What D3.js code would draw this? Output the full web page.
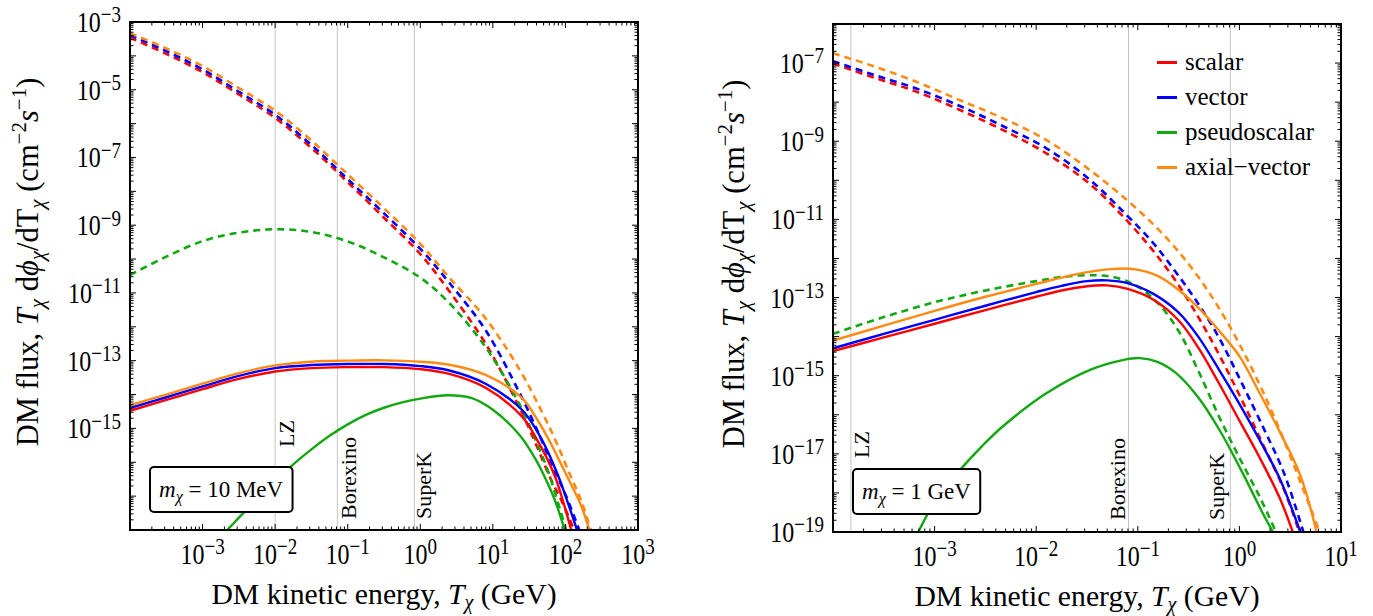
<!DOCTYPE html>
<html><head><meta charset="utf-8">
<script src="https://cdn.jsdelivr.net/npm/d3@7"></script>
<style>
body{margin:0;background:#fff}
svg{display:block}
text{font-family:"Liberation Serif","Times New Roman",serif;fill:#000}
</style>
</head><body>
<svg id="chart" width="1373" height="616"></svg>
<script>
// ---------------- DATA (log10 T [GeV], log10 flux) ----------------
const seriesNames = ["scalar", "vector", "pseudoscalar", "axial\u2212vector"];

// Panel A: m_chi = 10 MeV
const mA_scalarSolid  = [[-4,-14.48],[-3.5,-14.16],[-3,-13.84],[-2.5,-13.54],[-2,-13.32],[-1.5,-13.22],[-1,-13.19],[-0.5,-13.19],[0,-13.25],[0.4,-13.39],[0.9,-13.8],[1.4,-14.65],[1.6,-15.3],[1.75,-15.9],[1.87,-16.5],[1.96,-17.1],[2.08,-18]];
const mA_vectorSolid  = [[-4,-14.4],[-3.5,-14.08],[-3,-13.76],[-2.5,-13.45],[-2,-13.22],[-1.5,-13.13],[-1,-13.1],[-0.5,-13.1],[0,-13.16],[0.4,-13.29],[0.9,-13.68],[1.4,-14.45],[1.6,-15.05],[1.75,-15.65],[1.9,-16.4],[2.01,-17.05],[2.16,-18]];
const mA_pseudoSolid  = [[-2.66,-18],[-2.44,-17.5],[-2.2,-16.97],[-2,-16.55],[-1.75,-16.06],[-1.5,-15.62],[-1.25,-15.22],[-1,-14.88],[-0.75,-14.6],[-0.5,-14.39],[-0.25,-14.23],[0,-14.12],[0.37,-14.02],[0.7,-14.1],[1.0,-14.45],[1.37,-15.2],[1.6,-15.95],[1.75,-16.6],[1.86,-17.15],[1.99,-18]];
const mA_axialSolid   = [[-4,-14.32],[-3.5,-14.0],[-3,-13.68],[-2.5,-13.37],[-2,-13.14],[-1.5,-13.03],[-1,-13.0],[-0.5,-12.99],[0,-13.03],[0.4,-13.12],[0.9,-13.42],[1.4,-14.1],[1.6,-14.7],[1.8,-15.45],[1.95,-16.1],[2.1,-16.75],[2.22,-17.3],[2.33,-18]];
const mA_scalarDashed = [[-4,-3.46],[-3.5,-3.94],[-3,-4.48],[-2.5,-5.14],[-2,-5.83],[-1.5,-6.72],[-1,-7.73],[-0.5,-8.78],[0,-9.85],[0.4,-10.95],[0.9,-12.5],[1.37,-14.4],[1.6,-15.5],[1.8,-16.5],[1.96,-17.2],[2.12,-18]];
const mA_vectorDashed = [[-4,-3.39],[-3.5,-3.86],[-3,-4.4],[-2.5,-5.06],[-2,-5.74],[-1.5,-6.63],[-1,-7.64],[-0.5,-8.65],[0,-9.7],[0.4,-10.7],[0.9,-12.1],[1.37,-13.96],[1.6,-15.0],[1.8,-16.0],[2.0,-16.95],[2.19,-18]];
const mA_pseudoDashed = [[-4,-10.47],[-3.5,-9.93],[-3,-9.47],[-2.5,-9.22],[-2,-9.12],[-1.5,-9.2],[-1,-9.48],[-0.5,-9.95],[0,-10.55],[0.4,-11.3],[0.9,-12.6],[1.37,-14.3],[1.6,-15.4],[1.75,-16.2],[1.87,-17.0],[2.01,-18]];
const mA_axialDashed  = [[-4,-3.33],[-3.5,-3.78],[-3,-4.3],[-2.5,-4.95],[-2,-5.62],[-1.5,-6.5],[-1,-7.5],[-0.5,-8.5],[0,-9.55],[0.4,-10.55],[0.9,-11.75],[1.37,-13.27],[1.65,-14.4],[1.86,-15.34],[2.05,-16.3],[2.22,-17.15],[2.35,-18]];

// Panel B: m_chi = 1 GeV
const mB_scalarSolid  = [[-4,-14.37],[-3.5,-14.02],[-3,-13.67],[-2.5,-13.32],[-2,-12.98],[-1.75,-12.82],[-1.5,-12.71],[-1.3,-12.69],[-1.1,-12.78],[-0.85,-13.05],[-0.6,-13.58],[-0.4,-14.3],[-0.2,-15.2],[0,-16.15],[0.2,-17.1],[0.4,-18.15],[0.525,-19]];
const mB_vectorSolid  = [[-4,-14.3],[-3.5,-13.93],[-3,-13.57],[-2.5,-13.21],[-2,-12.86],[-1.75,-12.7],[-1.5,-12.58],[-1.3,-12.56],[-1.1,-12.63],[-0.85,-12.9],[-0.6,-13.38],[-0.4,-14.02],[-0.2,-14.85],[0,-15.72],[0.2,-16.65],[0.4,-17.65],[0.6,-19]];
const mB_pseudoSolid  = [[-3.16,-19],[-2.97,-18.1],[-2.75,-17.41],[-2.54,-16.82],[-2.33,-16.3],[-1.9,-15.45],[-1.47,-14.85],[-1.15,-14.6],[-0.98,-14.55],[-0.8,-14.65],[-0.62,-14.94],[-0.41,-15.54],[-0.196,-16.39],[0.016,-17.41],[0.23,-18.52],[0.33,-19]];
const mB_axialSolid   = [[-4,-14.1],[-3.5,-13.72],[-3,-13.34],[-2.5,-12.98],[-2,-12.65],[-1.6,-12.4],[-1.3,-12.28],[-1.05,-12.27],[-0.8,-12.45],[-0.6,-12.8],[-0.4,-13.27],[-0.2,-13.85],[0,-14.5],[0.2,-15.45],[0.4,-16.45],[0.6,-17.55],[0.76,-19]];
const mB_scalarDashed = [[-4,-7.01],[-3.6,-7.37],[-3.18,-7.73],[-2.75,-8.2],[-2.33,-8.71],[-1.9,-9.31],[-1.47,-10.1],[-1.11,-11.02],[-0.85,-11.8],[-0.62,-12.6],[-0.4,-13.52],[-0.196,-14.48],[0.016,-15.58],[0.23,-16.75],[0.44,-17.92],[0.59,-19]];
const mB_vectorDashed = [[-4,-6.95],[-3.6,-7.3],[-3.18,-7.65],[-2.75,-8.1],[-2.33,-8.61],[-1.9,-9.18],[-1.47,-9.99],[-1.11,-10.89],[-0.85,-11.6],[-0.62,-12.37],[-0.41,-13.14],[-0.196,-14.05],[0.016,-15.15],[0.23,-16.3],[0.44,-17.5],[0.63,-19]];
const mB_pseudoDashed = [[-4,-13.93],[-3.5,-13.5],[-3,-13.12],[-2.5,-12.82],[-2,-12.58],[-1.7,-12.46],[-1.4,-12.43],[-1.2,-12.5],[-1.0,-12.72],[-0.8,-13.15],[-0.6,-13.85],[-0.4,-14.9],[-0.2,-16.05],[0,-17.1],[0.2,-18.1],[0.36,-19]];
const mB_axialDashed  = [[-4,-6.75],[-3.6,-7.08],[-3.18,-7.48],[-2.75,-7.95],[-2.33,-8.41],[-1.9,-8.97],[-1.47,-9.74],[-1.11,-10.5],[-0.85,-11.12],[-0.62,-11.76],[-0.4,-12.49],[-0.196,-13.29],[0.016,-14.27],[0.23,-15.4],[0.44,-16.66],[0.62,-17.85],[0.79,-19]];

// Experiment threshold lines (GeV)
const expNames = ["LZ", "Borexino", "SuperK"];
const expEnergyA = [0.01, 0.072, 0.83];
const expEnergyB = [0.00015, 0.081, 0.815];

// Axis ranges (decades) and tick labels (exponents)
const xDecadesA = [-4, 3], yDecadesA = [-18, -3];
const xDecadesB = [-4, 1], yDecadesB = [-19, -6];
const xLabelExpA = [-3, -2, -1, 0, 1, 2, 3];
const yLabelExpA = [-3, -5, -7, -9, -11, -13, -15];
const xLabelExpB = [-3, -2, -1, 0, 1];
const yLabelExpB = [-7, -9, -11, -13, -15, -17, -19];
const massLabelA = "10 MeV", massLabelB = "1 GeV";

// ---------------- STYLE / LAYOUT ----------------
const colors = ["#ff0000", "#0000ff", "#11a811", "#ff8a12"];
const TICK_SY = 1.2; // tick label glyph stretch
const panels = [
  { frame:{x0:130,x1:638,y0:22,y1:530}, xd:xDecadesA, yd:yDecadesA, xl:xLabelExpA, yl:yLabelExpA,
    solid:[mA_scalarSolid,mA_vectorSolid,mA_pseudoSolid,mA_axialSolid],
    dashed:[mA_scalarDashed,mA_vectorDashed,mA_pseudoDashed,mA_axialDashed],
    exp:expEnergyA, expDx:[19,19,17], expY:[447,519,519], mass:massLabelA, legend:false, titleX:38 },
  { frame:{x0:833,x1:1341,y0:24,y1:532}, xd:xDecadesB, yd:yDecadesB, xl:xLabelExpB, yl:yLabelExpB,
    solid:[mB_scalarSolid,mB_vectorSolid,mB_pseudoSolid,mB_axialSolid],
    dashed:[mB_scalarDashed,mB_vectorDashed,mB_pseudoDashed,mB_axialDashed],
    exp:expEnergyB, expDx:[18,-4,-6], expY:[458,520,520], mass:massLabelB, legend:true, titleX:744 }
];

const svg = d3.select("#chart");
const defs = svg.append("defs");

function tickLabel(g, tx, ty, anchor, exp) {
  const t = g.append("text").attr("transform", `translate(${tx},${ty}) scale(1,${TICK_SY})`)
    .attr("text-anchor", anchor).attr("font-size", 24);
  t.append("tspan").text("10");
  t.append("tspan").attr("dy", -8).attr("font-size", 19)
     .text((exp < 0 ? "\u2212" : "") + Math.abs(exp));
}

panels.forEach((p, pi) => {
  const f = p.frame;
  const x = d3.scaleLog().domain([10**p.xd[0], 10**p.xd[1]]).range([f.x0, f.x1]);
  const y = d3.scaleLog().domain([10**p.yd[0], 10**p.yd[1]]).range([f.y1, f.y0]);
  const g = svg.append("g");

  defs.append("clipPath").attr("id", "clip"+pi).append("rect")
    .attr("x", f.x0).attr("y", f.y0).attr("width", f.x1-f.x0).attr("height", f.y1-f.y0);

  g.selectAll(".grid").data(p.exp).enter().append("line")
    .attr("x1", d=>x(d)).attr("x2", d=>x(d)).attr("y1", f.y0).attr("y2", f.y1)
    .attr("stroke", "#c4c4c4").attr("stroke-width", 1);

  const line = d3.line().x(d=>x(10**d[0])).y(d=>y(10**d[1])).curve(d3.curveCatmullRom.alpha(0.5));
  const cg = g.append("g").attr("clip-path", `url(#clip${pi})`);
  p.dashed.forEach((s,i)=>{
    cg.append("path").attr("d", line(s)).attr("fill","none").attr("stroke", colors[i])
      .attr("stroke-width", 2.6).attr("stroke-dasharray", "7,5");
  });
  p.solid.forEach((s,i)=>{
    cg.append("path").attr("d", line(s)).attr("fill","none").attr("stroke", colors[i])
      .attr("stroke-width", 2.4);
  });

  p.exp.forEach((e,i)=>{
    g.append("text").attr("transform", `translate(${x(e)+p.expDx[i]},${p.expY[i]}) rotate(-90)`)
      .attr("font-size", 22).text(expNames[i]);
  });

  const xt = x.ticks(40), yt = y.ticks(40);
  const isMaj = v => Math.abs(Math.log10(v) - Math.round(Math.log10(v))) < 1e-6;
  const tk = g.append("g").attr("stroke", "#000").attr("stroke-width", 1);
  xt.forEach(v=>{
    const L = isMaj(v) ? 6 : 3.5, xx = x(v);
    tk.append("line").attr("x1",xx).attr("x2",xx).attr("y1",f.y1).attr("y2",f.y1-L);
    tk.append("line").attr("x1",xx).attr("x2",xx).attr("y1",f.y0).attr("y2",f.y0+L);
  });
  yt.forEach(v=>{
    const L = isMaj(v) ? 6 : 3.5, yy = y(v);
    tk.append("line").attr("x1",f.x0).attr("x2",f.x0+L).attr("y1",yy).attr("y2",yy);
    tk.append("line").attr("x1",f.x1).attr("x2",f.x1-L).attr("y1",yy).attr("y2",yy);
  });

  g.append("rect").attr("x", f.x0).attr("y", f.y0).attr("width", f.x1-f.x0).attr("height", f.y1-f.y0)
    .attr("fill","none").attr("stroke","#000").attr("stroke-width", 2);

  p.xl.forEach(e=> tickLabel(g, x(10**e), f.y1+34, "middle", e));
  p.yl.forEach(e=> tickLabel(g, f.x0-9, y(10**e)+10, "end", e));

  // x title
  const xtT = g.append("text").attr("x", (f.x0+f.x1)/2).attr("y", f.y1+74)
    .attr("text-anchor","middle").attr("font-size", 29.7);
  xtT.append("tspan").text("DM kinetic energy, ");
  xtT.append("tspan").attr("font-style","italic").text("T");
  xtT.append("tspan").attr("font-style","italic").attr("font-size",20).attr("dy",5).text("\u03c7");
  xtT.append("tspan").attr("dy",-5).text(" (GeV)");

  // y title
  const ytT = g.append("text").attr("transform", `translate(${p.titleX},${(f.y0+f.y1)/2-14}) rotate(-90)`)
    .attr("text-anchor","middle").attr("font-size", 30.5);
  ytT.append("tspan").text("DM flux, ");
  ytT.append("tspan").attr("font-style","italic").text("T");
  ytT.append("tspan").attr("font-style","italic").attr("font-size",21).attr("dy",6).text("\u03c7");
  ytT.append("tspan").attr("dy",-6).text(" d");
  ytT.append("tspan").attr("font-style","italic").text("\u03d5");
  ytT.append("tspan").attr("font-style","italic").attr("font-size",21).attr("dy",6).text("\u03c7");
  ytT.append("tspan").attr("dy",-6).text("/dT");
  ytT.append("tspan").attr("font-style","italic").attr("font-size",21).attr("dy",6).text("\u03c7");
  ytT.append("tspan").attr("dy",-6).text(" (cm");
  ytT.append("tspan").attr("font-size",21).attr("dy",-12).text("\u22122");
  ytT.append("tspan").attr("font-style","italic").attr("dy",12).text("s");
  ytT.append("tspan").attr("font-size",21).attr("dy",-12).text("\u22121");
  ytT.append("tspan").attr("dy",12).text(")");

  // mass box
  const bg = g.append("g");
  const bt = bg.append("text").attr("x", 0).attr("y", 0).attr("font-size", 23);
  bt.append("tspan").attr("font-style","italic").text("m");
  bt.append("tspan").attr("font-style","italic").attr("font-size",16).attr("dy",5).text("\u03c7");
  bt.append("tspan").attr("dy",-5).text(" = " + p.mass);
  const bb = bt.node().getBBox();
  const bx = f.x0 + 20, byTop = f.y1 - 63, bw = bb.width + 18, bh = 45;
  bg.insert("rect", "text").attr("x", bx).attr("y", byTop).attr("width", bw).attr("height", bh)
    .attr("rx", 4).attr("fill","#fff").attr("stroke","#000").attr("stroke-width", 2);
  bt.attr("x", bx + 9).attr("y", byTop + bh/2 + 7);

  if (p.legend) {
    const lg = g.append("g");
    seriesNames.forEach((n,i)=>{
      const ly = 62.5 + i*35;
      lg.append("line").attr("x1", 1157).attr("x2", 1177).attr("y1", ly).attr("y2", ly)
        .attr("stroke", colors[i]).attr("stroke-width", 3);
      lg.append("text").attr("x", 1185).attr("y", ly+7).attr("font-size", 25).text(n);
    });
  }
});
</script>
</body></html>
